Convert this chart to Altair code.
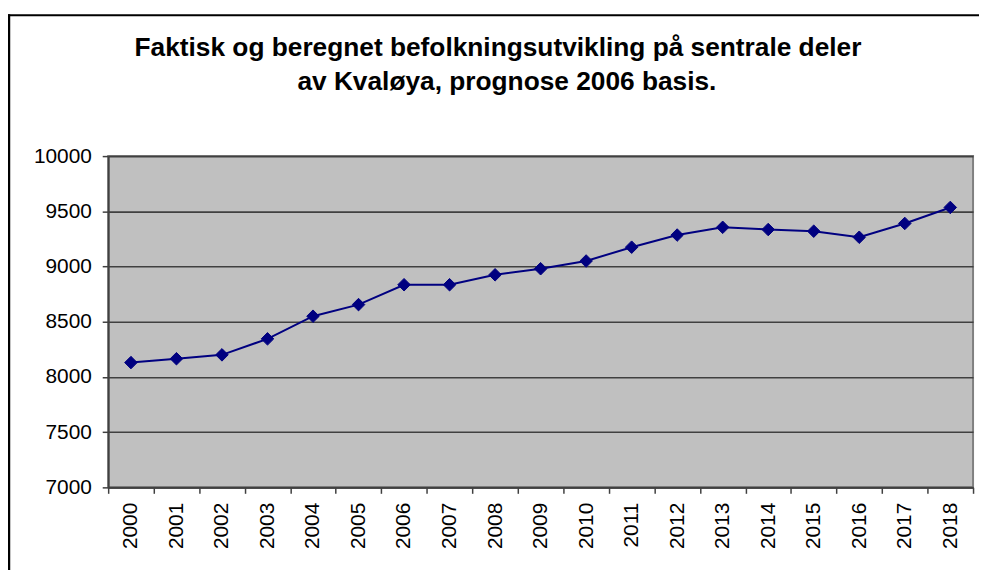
import altair as alt
import pandas as pd

years = ["2000", "2001", "2002", "2003", "2004", "2005", "2006", "2007", "2008", "2009",
         "2010", "2011", "2012", "2013", "2014", "2015", "2016", "2017", "2018"]
population = [8130, 8165, 8200, 8345, 8550, 8655, 8835, 8835, 8925, 8980,
              9050, 9175, 9285, 9355, 9335, 9320, 9265, 9390, 9535]
y_ticks = [7000, 7500, 8000, 8500, 9000, 9500, 10000]
title_lines = ["Faktisk og beregnet befolkningsutvikling på sentrale deler",
               "av Kvaløya, prognose 2006 basis."]

df = pd.DataFrame({"year": years, "value": population})

FONT = "Liberation Sans"

x_enc = alt.X("year:O", title=None,
              scale=alt.Scale(type="band", paddingInner=0, paddingOuter=0),
              axis=alt.Axis(tickBand="extent", labelAngle=-90, labelAlign="right",
                            labelBaseline="middle", labelFontSize=21, labelFont=FONT,
                            labelColor="black", labelPadding=9, tickSize=6,
                            tickColor="#404040", tickWidth=1.5, domainColor="#404040",
                            domainWidth=2, grid=False))
y_enc = alt.Y("value:Q", title=None,
              scale=alt.Scale(domain=[7000, 10000], nice=False, zero=False),
              axis=alt.Axis(values=y_ticks, format="d", labelFontSize=21, labelFont=FONT,
                            labelColor="black", labelPadding=11, tickSize=6,
                            tickColor="#404040", tickWidth=1.5, domainColor="#404040",
                            domainWidth=2, grid=True, gridColor="#404040", gridWidth=1.6))

line = alt.Chart(df).mark_line(color="#000080", strokeWidth=2).encode(x=x_enc, y=y_enc)
points = alt.Chart(df).mark_point(shape="diamond", filled=True, size=160, color="#000080",
                                  stroke="#000080", strokeWidth=1,
                                  opacity=1).encode(x=x_enc, y=y_enc)

frame_data = alt.Data(values=[{"k": 1}])
top_rule = alt.Chart(frame_data).mark_rule(color="black", strokeWidth=2).encode(
    x=alt.value(-101), x2=alt.value(900), y=alt.value(-142))
left_rule = alt.Chart(frame_data).mark_rule(color="black", strokeWidth=2.5).encode(
    x=alt.value(-100), y=alt.value(-143), y2=alt.value(440))

title1 = alt.Chart(frame_data).mark_text(
    font=FONT, fontSize=26.5, fontWeight="bold", color="black",
    align="center", baseline="alphabetic").encode(
    x=alt.value(393), y=alt.value(-101), text=alt.value(title_lines[0]))
title2 = alt.Chart(frame_data).mark_text(
    font=FONT, fontSize=26.5, fontWeight="bold", color="black",
    align="center", baseline="alphabetic").encode(
    x=alt.value(402), y=alt.value(-67), text=alt.value(title_lines[1]))

chart = alt.layer(line, points, top_rule, left_rule, title1, title2).properties(
    width=872, height=334,
    autosize=alt.AutoSizeParams(type="none"),
    padding={"left": 101, "top": 147, "right": 6, "bottom": 81},
).configure(background="white").configure_view(fill="#C0C0C0", stroke="#808080", strokeWidth=2)

chart.save("out.html", embed_options={"renderer": "svg", "actions": False})
